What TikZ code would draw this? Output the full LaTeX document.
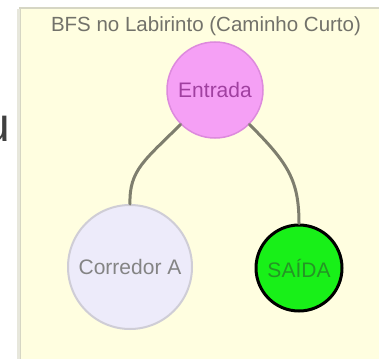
\documentclass[tikz,border=0pt]{standalone}
\usepackage{fontspec}
\setmainfont{Liberation Sans}
\definecolor{panelfill}{HTML}{FFFEE0}
\definecolor{panelline}{HTML}{D6D6C4}
\definecolor{titlegrey}{HTML}{72726A}
\definecolor{edgegrey}{HTML}{7E7E6E}
\definecolor{entfill}{HTML}{F5A0F5}
\definecolor{entline}{HTML}{DD8ADD}
\definecolor{enttext}{HTML}{A040A0}
\definecolor{corfill}{HTML}{EDEBFA}
\definecolor{corline}{HTML}{CFCDD6}
\definecolor{cortext}{HTML}{848484}
\definecolor{exitfill}{HTML}{18F018}
\definecolor{exittext}{HTML}{259525}
\tikzset{
  room/.style={circle, inner sep=0pt, font=\fontsize{21}{21}\selectfont},
  link/.style={draw=edgegrey, line width=3pt, line cap=round}
}
\begin{document}
\begin{tikzpicture}[x=1pt, y=-1pt]
  \useasboundingbox (0,0) rectangle (379,358);
  \fill[white] (0,0) rectangle (379,358);
  % stray glyph from neighbouring text, cut by the left edge
  \begin{scope}
    \clip (0,0) rectangle (19,358);
    \node[text=black!75, font=\fontsize{48}{48}\selectfont, inner sep=0pt, anchor=base] (stray) at (-3,141) {u};
  \end{scope}
  % panel
  \fill[panelfill] (20,8) rectangle (381,362);
  \draw[panelline, line width=2pt] (20,362) -- (20,8) -- (381,8);
  \draw[panelline!60, line width=3pt] (18,362) -- (18,9);
  \node[text=titlegrey, font=\fontsize{20.5}{21}\selectfont, inner sep=0pt] (title) at (206,26) {BFS no Labirinto (Caminho Curto)};
  % rooms
  \node[room, minimum size=96pt, fill=entfill, draw=entline, line width=1.5pt, text=enttext] (ent) at (215,90) {Entrada};
  \node[room, minimum size=124pt, fill=corfill, draw=corline, line width=2pt, text=cortext] (cor) at (130,267) {Corredor A};
  \node[room, minimum size=86pt, fill=exitfill, draw=black, line width=3pt, text=exittext] (exit) at (299,268) {SAÍDA};
  % paths
  \draw[link] (ent.225) .. controls (145,160) and (129,170) .. (cor.north);
  \draw[link] (ent.-45) .. controls (288,163) and (299,180) .. (exit.north);
\end{tikzpicture}
\end{document}
